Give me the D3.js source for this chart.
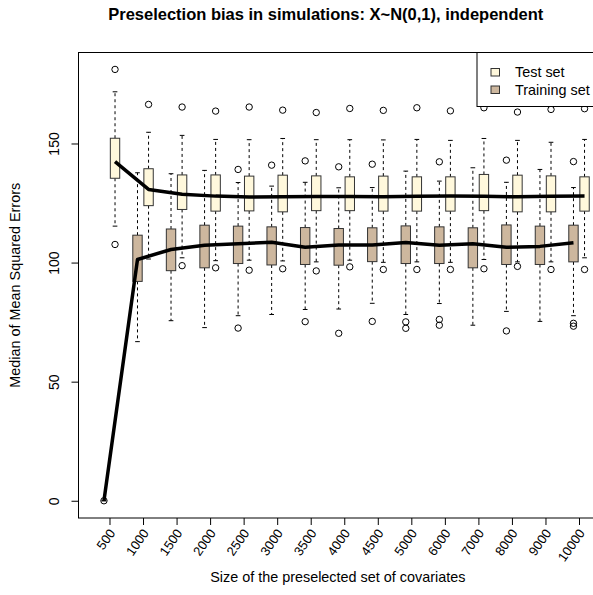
<!DOCTYPE html>
<html>
<head>
<meta charset="utf-8">
<script src="https://cdn.jsdelivr.net/npm/d3@7"></script>
<style>
  body { margin: 0; background: #fff; }
  svg { display: block; font-family: "Liberation Sans", Arial, sans-serif; }
  .whisker { stroke: #000; stroke-dasharray: 3,3; }
  .staple, .frame { stroke: #000; }
  .outlier { fill: none; stroke: #000; }
  .median { fill: none; stroke: #000; stroke-width: 3.5; stroke-linejoin: round; }
</style>
</head>
<body>
<div id="chart"></div>
<script>
(function(){

// covariate set sizes (x categories)
let sizes = ["500", "1000", "1500", "2000", "2500", "3000", "3500", "4000",
             "4500", "5000", "6000", "7000", "8000", "9000", "10000"];

// box stats per size: [lower whisker, Q1, median, Q3, upper whisker]
let testStats = [
  [115.3, 135.4, 142.4, 152.2, 171.7],
  [101.5, 123.9, 130.7, 139.4, 154.7],
  [102.0, 122.3, 128.7, 136.8, 153.4],
  [100.8, 121.6, 127.9, 136.8, 151.7],
  [101.0, 121.7, 127.5, 136.3, 151.6],
  [100.7, 121.3, 127.6, 136.7, 152.1],
  [100.3, 121.8, 127.7, 136.4, 151.6],
  [101.0, 121.8, 127.7, 136.0, 151.6],
  [100.1, 121.6, 127.6, 136.3, 151.5],
  [100.3, 121.6, 127.8, 136.0, 151.7],
  [100.1, 121.6, 127.9, 136.0, 151.3],
  [101.3, 121.8, 127.8, 137.0, 152.1],
  [100.3, 121.3, 127.6, 136.7, 151.3],
  [100.3, 121.3, 127.8, 136.4, 150.5],
  [102.0, 121.6, 127.9, 136.0, 151.7]
];
let testOutliers = [
  [181.1, 107.6], [166.4], [165.3, 98.7], [163.6, 97.8], [165.3, 96.8],
  [164.0, 97.4], [163.0, 96.5], [164.7, 98.2], [163.9, 97.1], [165.0, 97.1],
  [163.7, 97.1], [165.0, 97.4], [163.2, 98.4], [164.3, 97.1], [164.6, 97.1]
];

let trainStats = [
  [0, 0, 0, 0, 0],
  [66.8, 92.1, 101.3, 111.5, 137.7],
  [75.6, 96.6, 105.5, 114.1, 137.3],
  [72.7, 97.8, 107.3, 115.7, 138.7],
  [77.7, 99.6, 107.9, 115.3, 133.6],
  [78.2, 99.0, 108.5, 115.0, 132.1],
  [80.3, 99.2, 106.4, 114.7, 133.7],
  [80.5, 98.9, 107.4, 114.3, 131.4],
  [82.9, 100.4, 107.4, 114.6, 131.5],
  [78.2, 99.6, 108.4, 115.4, 138.4],
  [82.8, 99.6, 107.3, 115.0, 134.2],
  [73.7, 97.8, 107.9, 114.6, 139.8],
  [79.5, 99.2, 106.4, 115.8, 133.7],
  [75.3, 99.2, 106.8, 115.3, 139.1],
  [77.7, 100.3, 108.3, 115.7, 131.5]
];
let trainOutliers = [
  [0], [], [], [], [139.1, 72.5],
  [140.9], [142.7, 75.2], [140.2, 70.3], [141.3, 75.3], [75.1, 72.4],
  [142.3, 76.1, 73.7], [], [143.0, 71.3], [], [142.4, 74.5, 73.3]
];

let yTicks = [0, 50, 100, 150];

let groups = [
  {name: "Test set", stats: testStats, outliers: testOutliers, fill: "#FFF8DC", offset: 0.165},
  {name: "Training set", stats: trainStats, outliers: trainOutliers, fill: "#CDB79E", offset: -0.165}
];

let W = 593, H = 595;
let margin = {top: 52.5, right: -17, bottom: 77, left: 78.5},
  width = W - margin.left - margin.right,
  height = H - margin.top - margin.bottom;

let x = d3.scaleLinear().domain([0.076, sizes.length + 0.924]).range([0, width]);
let y = d3.scaleLinear().domain([-7.24, 188.2]).range([height, 0]);
let boxW = x(0.28) - x(0);

let svg = d3.select("#chart").append("svg")
    .attr("width", W)
    .attr("height", H)
  .append("g")
    .attr("transform", "translate(" + margin.left + "," + margin.top + ")");

// boxes
groups.forEach(g => {
  let box = svg.selectAll(null)
    .data(g.stats.map((s, i) => ({s: s, i: i + 1, out: g.outliers[i]})))
    .enter().append("g");

  let cx = d => x(d.i + g.offset);

  box.append("line").attr("class", "whisker")
    .attr("x1", cx).attr("x2", cx)
    .attr("y1", d => y(d.s[3])).attr("y2", d => y(d.s[4]));
  box.append("line").attr("class", "whisker")
    .attr("x1", cx).attr("x2", cx)
    .attr("y1", d => y(d.s[1])).attr("y2", d => y(d.s[0]));
  [0, 4].forEach(k => {
    box.append("line").attr("class", "staple")
      .attr("x1", d => cx(d) - boxW / 4).attr("x2", d => cx(d) + boxW / 4)
      .attr("y1", d => y(d.s[k])).attr("y2", d => y(d.s[k]));
  });
  box.append("rect")
    .attr("x", d => cx(d) - boxW / 2)
    .attr("width", boxW)
    .attr("y", d => y(d.s[3]))
    .attr("height", d => y(d.s[1]) - y(d.s[3]))
    .attr("fill", g.fill)
    .attr("stroke", "#333");
  box.selectAll("circle")
    .data(d => d.out.map(v => ({v: v, x: cx(d)})))
    .enter().append("circle")
    .attr("class", "outlier")
    .attr("cx", d => d.x)
    .attr("cy", d => y(d.v))
    .attr("r", 3.2);
});

// median lines
let line = d3.line()
  .x(d => d.x)
  .y(d => y(d.v));
groups.forEach(g => {
  svg.append("path")
    .attr("class", "median")
    .attr("d", line(g.stats.map((s, i) => ({x: x(i + 1 + g.offset), v: s[2]}))));
});

// frame
svg.append("rect").attr("class", "frame")
  .attr("width", width).attr("height", height)
  .attr("fill", "none");

// y axis
let yAxis = svg.append("g")
  .call(d3.axisLeft(y).tickValues(yTicks).tickSize(7).tickPadding(0).tickSizeOuter(0));
yAxis.select(".domain").remove();
yAxis.selectAll("text")
  .attr("x", null).attr("dy", null)
  .attr("transform", "translate(-20,0) rotate(-90)")
  .style("text-anchor", "middle")
  .style("font-size", "14px")
  .style("font-family", "Liberation Sans, Arial, sans-serif");

// x axis
let xAxis = svg.append("g")
  .attr("transform", "translate(0," + height + ")")
  .call(d3.axisBottom(x).tickValues(d3.range(1, sizes.length + 1))
        .tickFormat(i => sizes[i - 1]).tickSize(7).tickSizeOuter(0));
xAxis.select(".domain").remove();
xAxis.selectAll("text")
  .attr("y", null).attr("dy", null)
  .attr("transform", "translate(3,13) rotate(-55)")
  .style("text-anchor", "end")
  .attr("dominant-baseline", "middle")
  .style("font-size", "13px")
  .style("font-family", "Liberation Sans, Arial, sans-serif");

// axis titles
svg.append("text")
  .attr("x", (W - margin.left) / 2 + 2)
  .attr("y", height + 64)
  .style("text-anchor", "middle")
  .style("font-size", "14.4px")
  .text("Size of the preselected set of covariates");

svg.append("text")
  .attr("transform", "translate(" + (-margin.left + 20) + "," + (height / 2) + ") rotate(-90)")
  .style("text-anchor", "middle")
  .style("font-size", "14.4px")
  .text("Median of Mean Squared Errors");

svg.append("text")
  .attr("x", (W - margin.left) / 2 - 10)
  .attr("y", -33)
  .style("text-anchor", "middle")
  .style("font-size", "16.5px")
  .style("font-weight", "bold")
  .text("Preselection bias in simulations: X~N(0,1), independent");

// legend
let legend = svg.append("g")
  .attr("transform", "translate(" + (W - margin.left - 116) + ",0)");
legend.append("rect")
  .attr("width", 150).attr("height", 54)
  .attr("fill", "#fff").attr("stroke", "#000");
legend.selectAll("g")
  .data(groups)
  .enter().append("g")
  .attr("transform", (d, i) => "translate(14," + (16 + i * 17.5) + ")")
  .each(function(d) {
    d3.select(this).append("rect")
      .attr("width", 8.5).attr("height", 7.5)
      .attr("fill", d.fill).attr("stroke", "#333");
    d3.select(this).append("text")
      .attr("x", 24).attr("y", 8.5)
      .style("font-size", "14.4px")
      .text(d.name);
  });

})();
</script>
</body>
</html>
